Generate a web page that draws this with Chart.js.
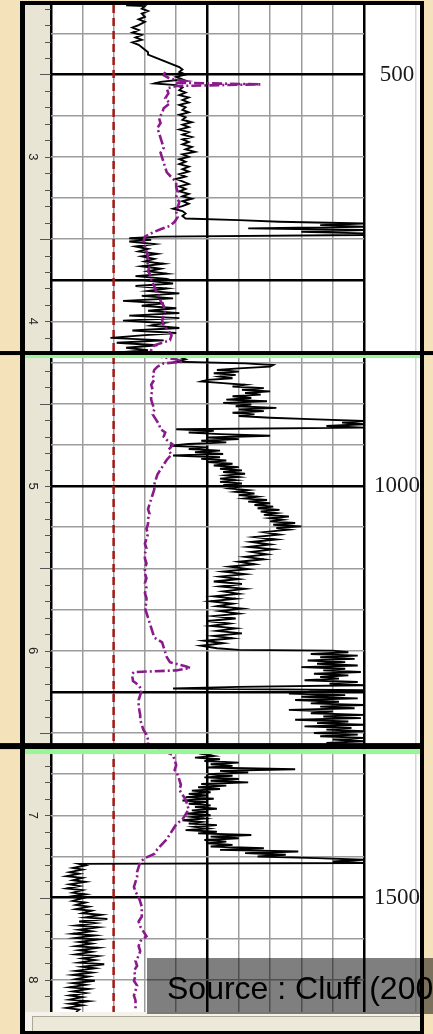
<!DOCTYPE html>
<html>
<head>
<meta charset="utf-8">
<script src="https://cdn.jsdelivr.net/npm/chart.js@4.4.1/dist/chart.umd.min.js"></script>
<style>
  html, body { margin: 0; padding: 0; background: #f4e2ba; }
</style>
</head>
<body>
<canvas id="log" width="433" height="1034"></canvas>
<script>
// depth range shown (m) and tick labels
const depthTop = 415.6;
const depthBottom = 1639;
const rightTicks = [500, 1000, 1500];
const leftLabelDepths = [600, 800, 1000, 1200, 1400, 1600];
const leftLabels = ['3', '4', '5', '6', '7', '8'];
const redCutoff = 2;

// black log (solid)
const grDepth = [
  416,417,420,423,426,430,433,436,440,443,
  446,449,452,455,458,461,464,467,470,473,
  476,479,482,485,488,491,494,497,500,503,
  506,509,511,513,516,519,522,525,528,531,
  534,537,540,543,546,549,552,555,558,561,
  564,567,570,573,576,579,582,585,588,591,
  594,597,600,603,606,609,612,615,618,621,
  624,627,630,633,636,639,642,645,648,651,
  654,657,660,663,666,669,672,675,677,679,
  681,683,685,687,689,691,693,695,697,699,
  701,703,706,709,712,715,718,721,724,727,
  730,733,736,739,742,745,748,751,754,757,
  760,763,766,769,772,775,778,781,784,787,
  790,793,796,799,802,805,808,811,814,817,
  820,823,826,829,832,835,838,
  840,843,846,849,851,853,855,857,859,861,
  863,865,867,869,871,873,875,877,879,881,
  883,885,887,889,891,893,895,897,899,901,
  903,905,907,909,911,913,915,917,919,921,
  923,925,927,929,931,933,935,937,939,941,
  943,945,947,949,951,953,955,957,959,961,
  963,965,967,969,971,973,975,977,979,981,
  983,985,987,989,991,993,995,997,999,1001,
  1003,1005,1007,1009,1011,1013,1015,1017,1019,1021,
  1023,1025,1027,1029,1031,1033,1035,1037,1039,1041,
  1043,1045,1047,1049,1051,1053,1056,1059,1062,1065,
  1068,1071,1074,1077,1080,1083,1086,1089,1092,1095,
  1098,1101,1104,1107,1110,1113,1116,1119,1122,1125,
  1128,1131,1134,1137,1140,1143,1146,1149,1152,1155,
  1158,1161,1164,1167,1170,1173,1176,1179,1182,1185,
  1188,1191,1194,1197,1199,1200,1202,1204,1206,
  1208,1210,1212,1214,1216,1218,1220,1222,1224,1226,
  1228,1230,1232,1234,1236,1238,1240,1242,1244,1246,
  1248,1250,1252,1254,1256,1258,1260,1262,1264,1266,
  1268,1270,1272,1274,1276,1278,1280,1282,1284,1286,
  1288,1290,1292,1294,1296,1298,1300,1302,1304,1306,
  1308,1310,1312,1314,1316,1318,1321,
  1324,1326,1328,1330,1332,1334,1336,1338,1340,1342,
  1344,1346,1348,1350,1352,1354,1356,1358,1360,1362,
  1364,1366,1368,1370,1372,1374,1376,1378,1380,1382,
  1384,1386,1388,1390,1392,1394,1396,1398,1400,1402,
  1404,1406,1408,1410,1412,1414,1416,1418,1420,1422,
  1424,1426,1428,1430,1432,1434,1436,1438,1440,1442,
  1444,1446,1448,1450,1452,1454,1456,1458,1459,1461,
  1464,1466,1469,1471,1474,1476,1479,1481,1484,1486,
  1489,1491,1494,1496,1499,1501,1504,1506,1509,1511,
  1514,1516,1519,1521,1524,1526,1529,1531,1534,1536,
  1539,1541,1544,1546,1549,1551,1554,1556,1559,1561,
  1564,1566,1569,1571,1574,1576,1579,1581,1584,1586,
  1589,1591,1594,1596,1599,1601,1604,1606,1609,1611,
  1614,1616,1619,1621,1624,1626,1629,1631,1634,1636,
  1639
];
const grValue = [
  2.4,3.0,2.9,3.1,2.9,3.0,2.8,3.0,2.8,2.6,
  2.8,2.6,2.9,2.7,2.9,2.6,2.8,2.9,3.0,3.1,
  3.1,3.3,3.5,3.7,3.9,4.1,4.2,4.1,4.3,4.0,
  4.2,3.5,3.3,4.0,4.2,4.1,4.3,4.1,4.4,4.2,
  4.4,4.1,4.3,4.2,4.4,4.1,4.3,4.2,4.5,4.2,
  4.4,4.1,4.4,4.2,4.5,4.2,4.4,4.2,4.5,4.3,
  4.6,4.2,4.4,4.1,4.3,4.1,4.4,4.2,4.4,4.1,
  4.3,4.0,4.2,4.4,4.1,4.3,4.1,4.4,4.2,4.5,
  4.2,4.4,4.2,3.9,4.2,4.3,4.2,4.3,6.0,7.3,
  10,8.6,10,6.3,10,8.0,10,10,3.5,2.5,
  3.2,2.5,3.3,2.7,3.1,2.8,3.4,2.9,3.3,3.0,
  3.6,2.9,3.5,3.1,3.7,2.7,3.6,3.2,3.9,2.7,
  3.7,3.1,4.1,2.9,3.9,2.3,3.6,2.9,4.0,3.1,
  4.1,2.5,4.1,2.3,3.6,3.2,4.1,2.6,4.0,2.9,
  1.9,3.6,2.1,3.4,2.4,3.1,2.0,
  3.4,4.1,4.3,4.0,6.2,7.1,7.0,6.0,5.3,6.0,
  5.2,5.9,5.4,5.8,5.0,4.8,5.5,6.2,5.8,6.8,
  6.1,7.0,6.2,6.7,5.8,6.4,5.6,6.9,5.5,6.4,
  5.9,7.2,6.0,6.8,5.8,6.5,6.0,7.0,8.5,10,
  9.3,10,8.8,10,4.0,5.2,4.4,5.4,7.0,5.0,
  6.0,4.8,5.6,4.4,3.8,5.0,4.4,5.4,4.6,5.5,
  3.9,5.4,4.8,5.6,5.0,5.8,5.2,6.0,5.4,6.1,
  5.5,6.2,5.6,6.0,5.4,5.9,5.4,6.1,5.5,6.0,
  5.7,6.3,5.9,6.5,6.0,6.6,6.2,6.9,6.3,7.0,
  6.5,7.1,6.6,7.3,6.7,7.2,6.8,7.6,7.0,7.4,
  7.0,7.8,7.1,8.0,7.2,7.6,6.8,7.3,6.5,7.2,
  6.4,7.0,6.3,7.1,6.4,6.9,6.2,6.8,6.0,6.5,
  5.7,6.3,5.5,6.2,5.4,6.0,5.2,6.1,5.4,6.2,
  5.5,6.0,5.2,5.9,5.1,5.8,5.3,6.1,5.4,6.0,
  5.2,5.9,5.0,5.7,5.1,5.9,5.3,6.1,5.2,5.8,
  4.9,5.5,4.8,5.3,6.0,9.0,9.5,8.3,9.8,
  8.6,9.7,8.2,9.4,8.5,9.8,8.0,9.4,8.7,9.9,
  8.4,9.5,8.6,9.2,8.1,9.8,8.9,10,6.0,3.9,
  10,8.3,7.6,9.4,8.0,9.8,7.8,9.2,8.3,10,
  8.6,9.7,7.6,9.0,8.3,10,8.7,9.9,7.8,9.5,
  8.5,10,8.1,9.6,8.8,10,8.4,9.8,8.6,10,
  9.0,10,8.8,9.5,8.9,9.6,5.0,
  5.3,4.9,5.2,4.6,5.4,4.9,6.0,5.1,5.8,5.0,
  7.8,5.4,6.3,5.0,5.8,4.9,6.0,5.1,6.3,4.8,
  5.6,4.7,5.4,4.5,5.1,4.4,5.0,4.3,5.2,4.2,
  5.0,4.4,5.1,4.6,5.3,4.5,5.0,4.3,5.1,4.5,
  4.9,4.2,4.8,4.4,5.3,4.6,5.0,4.3,5.3,4.7,
  6.4,5.1,6.0,4.9,5.6,5.0,5.8,5.1,6.8,5.4,
  7.9,6.2,7.5,6.6,8.5,10,9.0,10,0.9,1.1,
  0.7,1.0,0.6,0.9,0.5,1.0,0.7,1.1,0.6,0.9,
  0.5,1.0,0.7,1.1,0.6,1.0,0.7,1.1,0.8,1.2,
  0.8,1.3,1.0,1.6,1.1,1.8,0.9,1.4,0.8,1.5,
  0.9,1.3,0.7,1.4,0.8,1.5,0.9,1.3,0.8,1.5,
  0.9,1.3,0.8,1.5,1.0,1.4,0.9,1.7,1.0,1.4,
  0.8,1.3,0.7,1.2,0.8,1.4,0.7,1.1,0.6,1.2,
  0.7,1.1,0.6,1.0,0.6,1.2,0.6,1.0,0.5,0.9,
  0.8
];

// purple log (dash-dot)
const rtDepth = [
  497,501,505,508,510,512,514,517,523,529,
  535,541,547,553,559,565,571,577,583,589,
  595,601,607,613,619,625,631,637,643,649,
  655,661,667,673,679,684,688,692,697,703,
  709,715,721,727,733,739,745,751,757,763,
  769,775,781,787,793,799,805,811,817,823,
  829,835,840,843,846,849,851,855,859,865,
  871,877,883,889,895,901,907,913,919,925,
  931,935,940,944,950,956,962,968,974,980,
  986,992,998,1004,1010,1016,1022,1028,1034,1040,
  1046,1052,1058,1064,1070,1076,1082,1088,1094,1100,
  1106,1112,1118,1124,1130,1136,1142,1148,1154,1160,
  1166,1172,1178,1184,1190,1196,1202,1208,1214,1219,
  1221,1224,1226,1228,1232,1237,1242,1248,1254,1260,
  1266,1272,1278,1284,1290,1296,1302,1308,1314,1320,
  1327,1333,1339,1345,1351,1357,1363,1369,1375,1381,
  1387,1393,1399,1405,1411,1417,1423,1429,1435,1441,
  1447,1452,1457,1463,1469,1475,1481,1487,1493,1499,
  1505,1511,1517,1523,1529,1535,1541,1547,1553,1559,
  1565,1571,1577,1583,1589,1595,1601,1607,1613,1619,
  1625,1631,1637
];
const rtValue = [
  3.65,3.6,3.8,4.3,4.0,6.7,4.0,3.7,3.75,3.65,
  3.8,3.6,3.55,3.45,3.5,3.4,3.45,3.5,3.55,3.6,
  3.5,3.55,3.6,3.65,3.7,3.85,4.0,4.0,4.05,4.0,
  4.1,4.05,4.0,4.05,3.95,3.8,3.5,3.25,3.0,2.95,
  3.0,3.05,3.1,3.05,3.15,3.1,3.2,3.2,3.3,3.35,
  3.45,3.5,3.6,3.65,3.6,3.55,3.6,3.75,3.85,3.8,
  3.3,3.2,3.3,3.5,4.0,4.2,3.6,3.4,3.3,3.25,
  3.3,3.2,3.25,3.2,3.2,3.25,3.3,3.25,3.35,3.45,
  3.5,3.65,3.6,3.7,3.9,3.75,3.85,3.7,3.6,3.5,
  3.4,3.35,3.3,3.3,3.25,3.2,3.15,3.1,3.15,3.1,
  3.1,3.05,3.1,3.05,3.0,3.05,3.0,3.0,3.05,3.0,
  3.0,3.05,3.0,3.05,3.0,3.05,3.05,3.0,3.05,3.1,
  3.15,3.2,3.25,3.3,3.55,3.6,3.65,3.7,3.8,4.3,
  4.45,4.0,2.65,2.6,2.6,2.62,2.8,2.9,2.85,2.8,
  2.8,2.82,2.85,2.85,2.9,2.95,3.05,3.1,3.1,3.5,
  3.9,3.95,4.0,3.95,4.05,4.1,4.15,4.1,4.2,4.3,
  4.35,4.4,4.3,4.2,4.0,3.9,3.8,3.7,3.55,3.4,
  3.3,3.0,2.85,2.8,2.75,2.75,2.7,2.65,2.7,2.8,
  2.85,2.9,2.9,2.9,2.8,2.85,2.95,3.05,2.85,2.8,
  2.85,2.8,2.7,2.75,2.65,2.7,2.65,2.75,2.7,2.65,
  2.7,2.7,2.7
];

const logFrame = {
  id: 'logFrame',
  beforeDraw(chart) {
    const { ctx, chartArea: a } = chart;
    ctx.save();
    ctx.fillStyle = '#f4e2ba';
    ctx.fillRect(0, 0, chart.width, chart.height);
    ctx.fillStyle = '#ffffff';
    ctx.fillRect(25, a.top, 395, a.bottom - a.top);
    ctx.fillStyle = '#e9e5d5';
    ctx.fillRect(25, a.top, a.left - 25, a.bottom - a.top);
    ctx.fillStyle = '#d4d4d4';
    ctx.fillRect(415, a.top, 1.5, a.bottom - a.top);
    ctx.restore();
  },
  afterDraw(chart) {
    const { ctx, chartArea: a } = chart;
    const ys = chart.scales.y;
    ctx.save();

    // depth ticks in the left strip
    ctx.strokeStyle = '#555';
    ctx.lineWidth = 1;
    for (let d = 420; d <= 1620; d += 20) {
      const py = Math.round(ys.getPixelForValue(d)) + 0.5;
      const len = d % 200 === 100 ? 11 : 6;
      ctx.beginPath();
      ctx.moveTo(a.left - len, py);
      ctx.lineTo(a.left, py);
      ctx.stroke();
    }
    ctx.fillStyle = '#222';
    ctx.font = '13px "Liberation Sans", Arial, sans-serif';
    ctx.textAlign = 'center';
    ctx.textBaseline = 'middle';
    leftLabelDepths.forEach((d, i) => {
      ctx.save();
      ctx.translate(33, ys.getPixelForValue(d));
      ctx.rotate(Math.PI / 2);
      ctx.fillText(leftLabels[i], 0, 0);
      ctx.restore();
    });

    // panel breaks
    const b1 = ys.getPixelForValue(836);
    ctx.fillStyle = '#000';
    ctx.fillRect(0, b1, 433, 4);
    ctx.fillStyle = '#98f598';
    ctx.fillRect(25, b1 + 4, 395, 3);
    const b2 = ys.getPixelForValue(1312.3);
    ctx.fillStyle = '#000';
    ctx.fillRect(0, b2, 422, 6);
    ctx.fillStyle = '#98f598';
    ctx.fillRect(25, b2 + 6, 395, 5);

    // status bar at the bottom
    ctx.fillStyle = '#f4f2ea';
    ctx.fillRect(25, a.bottom, 395, 20);
    ctx.fillStyle = '#ece9d8';
    ctx.fillRect(32, a.bottom + 4, 388, 16);
    ctx.fillStyle = '#aca899';
    ctx.fillRect(32, a.bottom + 4, 388, 1);
    ctx.fillRect(32, a.bottom + 4, 1, 16);

    // source box
    ctx.fillStyle = 'rgba(0,0,0,0.5)';
    ctx.fillRect(147, 958, 286, 56);
    ctx.fillStyle = '#000';
    ctx.font = '32px "Liberation Sans", Arial, sans-serif';
    ctx.textAlign = 'left';
    ctx.textBaseline = 'alphabetic';
    ctx.fillText('Source : Cluff (2004)', 167, 999);

    // outer frame
    ctx.fillStyle = '#000';
    ctx.fillRect(20, 1, 404, 4);
    ctx.fillRect(20, 1, 5, 1033);
    ctx.fillRect(420, 1, 4, 1033);
    ctx.fillRect(20, 1031, 404, 3);
    ctx.restore();
  }
};

const noPad = (s) => { s.paddingTop = 0; s.paddingBottom = 0; s.paddingLeft = 0; s.paddingRight = 0; };

new Chart(document.getElementById('log'), {
  type: 'line',
  data: {
    datasets: [
      {
        label: 'Purple log',
        data: rtDepth.map((d, i) => ({ x: rtValue[i], y: d })),
        borderColor: '#8a1a8c',
        borderWidth: 2.6,
        borderDash: [10, 3, 2, 3],
        pointRadius: 0,
        order: 1
      },
      {
        label: 'Black log',
        data: grDepth.map((d, i) => ({ x: grValue[i], y: d })),
        borderColor: '#000',
        borderWidth: 1.9,
        pointRadius: 0,
        order: 2
      },
      {
        label: 'Cutoff',
        data: [{ x: redCutoff, y: depthTop }, { x: redCutoff, y: depthBottom }],
        borderColor: '#a31818',
        borderWidth: 2.5,
        borderDash: [8, 5],
        pointRadius: 0,
        order: 3
      }
    ]
  },
  options: {
    responsive: false,
    animation: false,
    layout: { padding: { top: 5, bottom: 22, left: 25, right: 13 } },
    plugins: { legend: { display: false }, tooltip: { enabled: false } },
    scales: {
      x: {
        type: 'linear',
        min: 0,
        max: 10,
        ticks: { display: false, stepSize: 1 },
        border: { display: false },
        grid: {
          drawTicks: false,
          color: (c) => (c.tick.value % 5 === 0 ? '#000' : '#9c9c9c'),
          lineWidth: (c) => (c.tick.value % 5 === 0 ? 2.5 : 1.5)
        },
        afterFit: (s) => { s.height = 0; noPad(s); }
      },
      y: {
        type: 'linear',
        reverse: true,
        min: depthTop,
        max: depthBottom,
        position: 'left',
        ticks: { display: false, stepSize: 50 },
        border: { display: false },
        grid: {
          drawTicks: false,
          color: (c) => (c.tick.value % 250 === 0 ? '#000' : (c.tick.value % 50 === 0 ? '#9c9c9c' : 'rgba(0,0,0,0)')),
          lineWidth: (c) => (c.tick.value % 250 === 0 ? 2.5 : 1.5)
        },
        afterFit: (s) => { s.width = 26; noPad(s); }
      },
      yR: {
        type: 'linear',
        reverse: true,
        min: depthTop,
        max: depthBottom,
        position: 'right',
        border: { display: false },
        grid: { display: false, drawTicks: false },
        ticks: {
          padding: 10,
          crossAlign: 'center',
          color: '#1a1a1a',
          font: { family: '"Liberation Serif", "Times New Roman", serif', size: 23 },
          callback: (v) => String(v)
        },
        afterBuildTicks: (s) => { s.ticks = rightTicks.map((v) => ({ value: v })); },
        afterFit: (s) => { s.width = 56; noPad(s); }
      }
    }
  },
  plugins: [logFrame]
});
</script>
</body>
</html>
